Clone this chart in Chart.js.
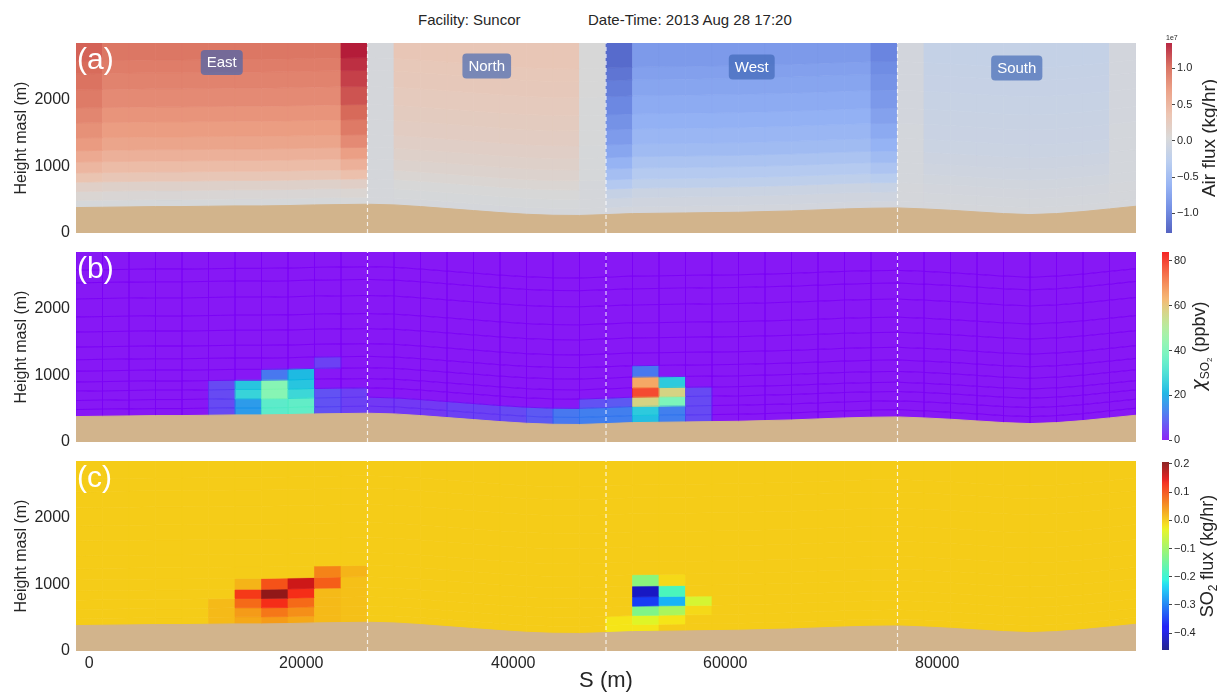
<!DOCTYPE html>
<html>
<head>
<meta charset="utf-8">
<script src="https://cdn.jsdelivr.net/npm/chart.js@4.4.1/dist/chart.umd.min.js"></script>
<style>
  body { margin: 0; background: #fff; font-family: "Liberation Sans", Arial, sans-serif; }
  #page { position: relative; width: 1217px; height: 692px; overflow: hidden; }
  canvas { position: absolute; }
  .ttl { position: absolute; top: 11px; font-size: 15px; line-height: 18px; color: #262626; white-space: pre; }
</style>
</head>
<body>
<div id="page">
  <div class="ttl" style="left:418px">Facility: Suncor</div>
  <div class="ttl" style="left:588px">Date-Time: 2013 Aug 28 17:20</div>
  <canvas id="pa" width="1150" height="252" style="left:0;top:0"></canvas>
  <canvas id="ca" width="77" height="252" style="left:1140px;top:0"></canvas>
  <canvas id="pb" width="1150" height="230" style="left:0;top:230px"></canvas>
  <canvas id="cb" width="77" height="230" style="left:1140px;top:230px"></canvas>
  <canvas id="pc" width="1150" height="252" style="left:0;top:440px"></canvas>
  <canvas id="cc" width="77" height="252" style="left:1140px;top:440px"></canvas>
</div>
<script>
'use strict';

// Column edges along the flight path S (m)
var sEdges = [-1250, 1250, 3750, 6250, 8750, 11250, 13750, 16250, 18750, 21250,
  23750, 26250, 28750, 31250, 33750, 36250, 38750, 41250, 43750, 46250,
  48750, 51250, 53750, 56250, 58750, 61250, 63750, 66250, 68750, 71250,
  73750, 76250, 78750, 81250, 83750, 86250, 88750, 91250, 93750, 96250, 98750];

// Ground height at each column edge (m)
var terrain = [380, 385, 390, 395, 395, 400, 405, 405, 410, 420, 425,
  430, 420, 395, 365, 335, 305, 280, 265, 262,
  275, 290, 295, 300, 305, 310, 320, 330, 345, 360, 370,
  375, 360, 340, 315, 290, 275, 290, 320, 360, 400];

// Mesh levels, height above ground (m)
var levelAgl = [0, 105, 240, 380, 518, 680, 850, 1040, 1265, 1490, 1760, 2000, 2190, 2600];

// Box sides: corners of the flight
var sectionNames = ['East', 'North', 'West', 'South'];
var sectionBounds = [26250, 48750, 76250];
var sectionLabelZ = [2550, 2495, 2480, 2465];

// Axis ticks
var xTicks = [0, 20000, 40000, 60000, 80000];
var yTicks = [0, 1000, 2000];
var yMax = 2840;

// (a) Air flux, 1e7 kg/hr, one row per level (bottom to top), 40 columns
var airFlux = [
  [0.02, 0.02, 0.02, 0.02, 0.02, 0.02, 0.02, 0.02, 0.02, 0.02, 0.03, 0, 0.01, 0.01, 0.01, 0.01, 0.01, 0.01, 0.01, 0, -0.02, -0.02, -0.02, -0.02, -0.02, -0.02, -0.02, -0.02, -0.02, -0.02, -0.02, 0, 0, 0, 0, 0, 0, 0, 0, 0],
  [0.08, 0.07, 0.07, 0.07, 0.07, 0.07, 0.07, 0.07, 0.07, 0.07, 0.08, 0, 0.02, 0.02, 0.02, 0.02, 0.02, 0.02, 0.02, 0, -0.07, -0.05, -0.05, -0.05, -0.05, -0.05, -0.05, -0.05, -0.05, -0.05, -0.06, 0, -0.01, -0.01, -0.01, -0.01, -0.01, -0.01, -0.01, 0],
  [0.17, 0.15, 0.15, 0.15, 0.15, 0.15, 0.15, 0.15, 0.15, 0.15, 0.18, 0, 0.04, 0.04, 0.04, 0.04, 0.04, 0.04, 0.04, 0.01, -0.15, -0.10, -0.10, -0.10, -0.10, -0.10, -0.10, -0.10, -0.10, -0.10, -0.13, 0, -0.02, -0.02, -0.02, -0.02, -0.02, -0.02, -0.02, 0],
  [0.34, 0.30, 0.30, 0.30, 0.30, 0.30, 0.30, 0.30, 0.30, 0.30, 0.38, 0, 0.08, 0.08, 0.08, 0.08, 0.08, 0.08, 0.08, 0.01, -0.32, -0.22, -0.22, -0.22, -0.22, -0.22, -0.22, -0.22, -0.22, -0.22, -0.27, -0.01, -0.04, -0.04, -0.04, -0.04, -0.04, -0.04, -0.04, -0.01],
  [0.47, 0.42, 0.42, 0.42, 0.42, 0.42, 0.42, 0.42, 0.42, 0.42, 0.53, 0, 0.12, 0.12, 0.12, 0.12, 0.12, 0.12, 0.12, 0.02, -0.45, -0.31, -0.31, -0.31, -0.31, -0.31, -0.31, -0.31, -0.31, -0.31, -0.38, -0.01, -0.06, -0.06, -0.06, -0.06, -0.06, -0.06, -0.06, -0.01],
  [0.59, 0.53, 0.53, 0.53, 0.53, 0.53, 0.53, 0.53, 0.53, 0.53, 0.68, 0, 0.15, 0.15, 0.15, 0.15, 0.15, 0.15, 0.15, 0.02, -0.58, -0.40, -0.40, -0.40, -0.40, -0.40, -0.40, -0.40, -0.40, -0.40, -0.49, -0.01, -0.08, -0.08, -0.08, -0.08, -0.08, -0.08, -0.08, -0.01],
  [0.71, 0.63, 0.63, 0.63, 0.63, 0.63, 0.63, 0.63, 0.63, 0.63, 0.82, 0, 0.18, 0.18, 0.18, 0.18, 0.18, 0.18, 0.18, 0.02, -0.70, -0.49, -0.49, -0.49, -0.49, -0.49, -0.49, -0.49, -0.49, -0.49, -0.59, -0.01, -0.10, -0.10, -0.10, -0.10, -0.10, -0.10, -0.10, -0.01],
  [0.78, 0.70, 0.70, 0.70, 0.70, 0.70, 0.70, 0.70, 0.70, 0.70, 0.93, 0, 0.21, 0.21, 0.21, 0.21, 0.21, 0.21, 0.21, 0.03, -0.79, -0.55, -0.55, -0.55, -0.55, -0.55, -0.55, -0.55, -0.55, -0.55, -0.67, -0.01, -0.11, -0.11, -0.11, -0.11, -0.11, -0.11, -0.11, -0.01],
  [0.85, 0.76, 0.76, 0.76, 0.76, 0.76, 0.76, 0.76, 0.76, 0.76, 1.03, 0, 0.23, 0.23, 0.23, 0.23, 0.23, 0.23, 0.23, 0.03, -0.87, -0.61, -0.61, -0.61, -0.61, -0.61, -0.61, -0.61, -0.61, -0.61, -0.74, -0.02, -0.12, -0.12, -0.12, -0.12, -0.12, -0.12, -0.12, -0.02],
  [0.92, 0.82, 0.82, 0.82, 0.82, 0.82, 0.82, 0.82, 0.82, 0.82, 1.12, 0, 0.25, 0.25, 0.25, 0.25, 0.25, 0.25, 0.25, 0.03, -0.95, -0.66, -0.66, -0.66, -0.66, -0.66, -0.66, -0.66, -0.66, -0.66, -0.81, -0.02, -0.13, -0.13, -0.13, -0.13, -0.13, -0.13, -0.13, -0.02],
  [0.97, 0.87, 0.87, 0.87, 0.87, 0.87, 0.87, 0.87, 0.87, 0.87, 1.20, 0, 0.27, 0.27, 0.27, 0.27, 0.27, 0.27, 0.27, 0.04, -1.02, -0.71, -0.71, -0.71, -0.71, -0.71, -0.71, -0.71, -0.71, -0.71, -0.86, -0.02, -0.14, -0.14, -0.14, -0.14, -0.14, -0.14, -0.14, -0.02],
  [1.02, 0.91, 0.91, 0.91, 0.91, 0.91, 0.91, 0.91, 0.91, 0.91, 1.27, 0, 0.28, 0.28, 0.28, 0.28, 0.28, 0.28, 0.28, 0.04, -1.08, -0.75, -0.75, -0.75, -0.75, -0.75, -0.75, -0.75, -0.75, -0.75, -0.91, -0.02, -0.15, -0.15, -0.15, -0.15, -0.15, -0.15, -0.15, -0.02],
  [1.06, 0.95, 0.95, 0.95, 0.95, 0.95, 0.95, 0.95, 0.95, 0.95, 1.35, 0, 0.30, 0.30, 0.30, 0.30, 0.30, 0.30, 0.30, 0.04, -1.15, -0.80, -0.80, -0.80, -0.80, -0.80, -0.80, -0.80, -0.80, -0.80, -0.97, -0.02, -0.16, -0.16, -0.16, -0.16, -0.16, -0.16, -0.16, -0.02]
];
var airRange = [-1.27, 1.35];
var airTicks = [-1.0, -0.5, 0, 0.5, 1.0];

// (b) SO2 mixing ratio, ppbv: [column, level, value]; all other cells 0
var so2Cells = [
  [5, 0, 6], [5, 1, 6], [5, 2, 6], [5, 3, 6],
  [6, 0, 17], [6, 1, 17], [6, 2, 27], [6, 3, 24],
  [7, 0, 34], [7, 1, 34], [7, 2, 42], [7, 3, 42], [7, 4, 12],
  [8, 0, 35], [8, 1, 35], [8, 2, 28], [8, 3, 24], [8, 4, 22],
  [9, 0, 7], [9, 1, 7], [9, 2, 7], [9, 5, 5],
  [10, 0, 5], [10, 1, 5], [10, 2, 5],
  [11, 0, 4], [11, 1, 4], [12, 0, 4], [12, 1, 4], [13, 0, 4], [13, 1, 4],
  [14, 0, 5], [14, 1, 5], [15, 0, 5], [15, 1, 5], [16, 0, 6], [16, 1, 6],
  [17, 0, 8], [17, 1, 8], [18, 0, 12], [18, 1, 12],
  [19, 0, 13], [19, 1, 13], [19, 2, 7], [20, 0, 13], [20, 1, 13], [20, 2, 8],
  [21, 0, 23], [21, 1, 25], [21, 2, 57], [21, 3, 78], [21, 4, 65], [21, 5, 12],
  [22, 0, 13], [22, 1, 13], [22, 2, 40], [22, 3, 57], [22, 4, 25],
  [23, 0, 6], [23, 1, 6], [23, 2, 6], [23, 3, 6]
];
var so2Range = [0, 84];
var so2Ticks = [0, 20, 40, 60, 80];

// (c) SO2 flux, kg/hr: [column, level, value]; all other cells 0
var fluxCells = [
  [5, 0, 0.015], [5, 1, 0.015], [5, 2, 0.015],
  [6, 0, 0.03], [6, 1, 0.04], [6, 2, 0.08], [6, 3, 0.12], [6, 4, 0.02],
  [7, 0, 0.04], [7, 1, 0.07], [7, 2, 0.13], [7, 3, 0.2], [7, 4, 0.1],
  [8, 0, 0.03], [8, 1, 0.05], [8, 2, 0.08], [8, 3, 0.13], [8, 4, 0.16],
  [9, 0, 0.015], [9, 1, 0.015], [9, 2, 0.015], [9, 3, 0.015], [9, 4, 0.09], [9, 5, 0.06],
  [10, 0, 0.01], [10, 1, 0.01], [10, 2, 0.01], [10, 3, 0.01], [10, 4, 0.01], [10, 5, 0.02],
  [20, 0, -0.02], [20, 1, -0.02],
  [21, 0, -0.02], [21, 1, -0.04], [21, 2, -0.13], [21, 3, -0.35], [21, 4, -0.42], [21, 5, -0.12],
  [22, 1, -0.02], [22, 2, -0.09], [22, 3, -0.26], [22, 4, -0.18], [22, 5, -0.01],
  [23, 2, -0.01], [23, 3, -0.05]
];
var fluxRange = [-0.46, 0.207];
var fluxTicks = [-0.4, -0.3, -0.2, -0.1, 0, 0.1, 0.2];


Chart.defaults.font.family = '"Liberation Sans", Arial, sans-serif';
Chart.defaults.color = '#262626';

// colour maps
var coolwarmStops = [[59, 76, 192], [97, 130, 234], [141, 176, 254], [184, 208, 249],
  [221, 221, 221], [245, 196, 173], [244, 154, 123], [222, 96, 77], [180, 4, 38]];
var jetR = [[0, 0], [0.35, 0], [0.66, 1], [0.89, 1], [1, 0.5]];
var jetG = [[0, 0], [0.125, 0], [0.375, 1], [0.64, 1], [0.91, 0], [1, 0]];
var jetB = [[0, 0.5], [0.11, 1], [0.34, 1], [0.65, 0], [1, 0]];

function clamp(t) { return Math.max(0, Math.min(1, t)); }
function pw(pts, t) {
  for (var i = 1; i < pts.length; i++) {
    if (t <= pts[i][0]) {
      var a = pts[i - 1], b = pts[i];
      return a[1] + (b[1] - a[1]) * (t - a[0]) / (b[0] - a[0]);
    }
  }
  return pts[pts.length - 1][1];
}
var cmaps = {
  coolwarm: function (t) {
    t = clamp(t);
    var f = t * (coolwarmStops.length - 1), i = Math.min(Math.floor(f), coolwarmStops.length - 2), u = f - i;
    return coolwarmStops[i].map(function (v, k) { return v + (coolwarmStops[i + 1][k] - v) * u; });
  },
  rainbow: function (t) {
    t = clamp(t);
    return [Math.min(1, Math.abs(2 * t - 0.5)) * 255, Math.sin(Math.PI * t) * 255, Math.cos(Math.PI * t / 2) * 255];
  },
  jet: function (t) {
    t = clamp(t);
    return [pw(jetR, t) * 255, pw(jetG, t) * 255, pw(jetB, t) * 255];
  }
};
// semi-transparent mesh over white, slightly toned down
function blend(rgb, a) {
  return 'rgb(' + rgb.map(function (v) { return Math.round(0.96 * (a * v + (1 - a) * 255)); }).join(',') + ')';
}
function sparseGrid(cells, bg) {
  var g = levelAgl.slice(1).map(function () { return sEdges.slice(1).map(function () { return bg; }); });
  cells.forEach(function (p) { g[p[1]][p[0]] = p[2]; });
  return g;
}
function minusFmt(d) {
  return function (v) {
    var s = Math.abs(v).toFixed(d);
    return v < -1e-9 ? '\u2212' + s : s;
  };
}
function boxPath(ctx, x, y, w, h, r) {
  ctx.beginPath();
  ctx.moveTo(x + r, y);
  ctx.arcTo(x + w, y, x + w, y + h, r);
  ctx.arcTo(x + w, y + h, x, y + h, r);
  ctx.arcTo(x, y + h, x, y, r);
  ctx.arcTo(x, y, x + w, y, r);
  ctx.closePath();
}

// draws the terrain-following mesh through the chart scales
var meshPlugin = {
  id: 'mesh',
  beforeDatasetsDraw: function (chart, args, o) {
    var xs = chart.scales.x, ys = chart.scales.y, ctx = chart.ctx, a = chart.chartArea;
    var cells = [];
    for (var r = 0; r < o.grid.length; r++) {
      for (var c = 0; c < o.grid[r].length; c++) {
        var lo = r === 0 ? -80 : levelAgl[r];
        var x0 = xs.getPixelForValue(sEdges[c]), x1 = xs.getPixelForValue(sEdges[c + 1]);
        cells.push({
          rgb: o.cmap((o.grid[r][c] - o.vmin) / (o.vmax - o.vmin)),
          pts: [[x0, ys.getPixelForValue(terrain[c] + lo)],
            [x1, ys.getPixelForValue(terrain[c + 1] + lo)],
            [x1, ys.getPixelForValue(terrain[c + 1] + levelAgl[r + 1])],
            [x0, ys.getPixelForValue(terrain[c] + levelAgl[r + 1])]]
        });
      }
    }
    ctx.save();
    ctx.beginPath();
    ctx.rect(a.left, a.top, a.right - a.left, a.bottom - a.top);
    ctx.clip();
    cells.forEach(function (cell) {
      ctx.beginPath();
      cell.pts.forEach(function (p, i) { if (i) ctx.lineTo(p[0], p[1]); else ctx.moveTo(p[0], p[1]); });
      ctx.closePath();
      var face = blend(cell.rgb, 0.9);
      ctx.fillStyle = face;
      ctx.fill();
      if (!o.edge) {
        ctx.strokeStyle = face;
        ctx.lineWidth = 0.7;
        ctx.stroke();
      }
    });
    if (o.edge) {
      cells.forEach(function (cell) {
        ctx.beginPath();
        cell.pts.forEach(function (p, i) { if (i) ctx.lineTo(p[0], p[1]); else ctx.moveTo(p[0], p[1]); });
        ctx.closePath();
        ctx.strokeStyle = blend(cell.rgb, 1);
        ctx.lineWidth = 0.8;
        ctx.stroke();
      });
    }
    ctx.restore();
  },
  afterDatasetsDraw: function (chart, args, o) {
    var xs = chart.scales.x, ys = chart.scales.y, ctx = chart.ctx, a = chart.chartArea;
    ctx.save();
    if (o.sections) {
      var edges = [sEdges[0]].concat(sectionBounds, [sEdges[sEdges.length - 1]]);
      ctx.font = '15px "Liberation Sans", Arial, sans-serif';
      ctx.textAlign = 'center';
      ctx.textBaseline = 'middle';
      sectionNames.forEach(function (name, i) {
        var cx = xs.getPixelForValue((edges[i] + edges[i + 1]) / 2);
        var cy = ys.getPixelForValue(sectionLabelZ[i]);
        var w = ctx.measureText(name).width + 12;
        boxPath(ctx, cx - w / 2, cy - 12.5, w, 25, 4);
        ctx.fillStyle = 'rgba(60,100,180,0.65)';
        ctx.fill();
        ctx.fillStyle = '#fff';
        ctx.fillText(name, cx, cy + 0.5);
      });
    }
    ctx.fillStyle = '#fff';
    ctx.font = '30px "Liberation Sans", Arial, sans-serif';
    ctx.textAlign = 'left';
    ctx.textBaseline = 'middle';
    ctx.fillText(o.letter, a.left + 1, a.top + 18);
    ctx.restore();
  }
};

function panel(id, o) {
  var datasets = sectionBounds.map(function (s) {
    return {
      data: [{ x: s, y: 0 }, { x: s, y: yMax }],
      borderColor: 'rgba(255,255,255,0.8)', borderWidth: 1.2, borderDash: [4, 3],
      pointRadius: 0, fill: false, order: 1
    };
  });
  datasets.push({
    data: sEdges.map(function (s, i) { return { x: s, y: terrain[i] }; }),
    borderColor: '#d2b48c', borderWidth: 1, backgroundColor: '#d2b48c',
    fill: 'origin', pointRadius: 0, tension: 0, order: 2
  });
  var xScale = {
    type: 'linear', min: sEdges[0], max: sEdges[sEdges.length - 1], display: o.showX,
    grid: { display: false, drawTicks: false }, border: { display: false },
    afterBuildTicks: function (s) { s.ticks = xTicks.map(function (v) { return { value: v }; }); },
    ticks: { font: { size: 16 }, padding: 3, maxRotation: 0, callback: function (v) { return String(v); } },
    title: { display: true, text: 'S (m)', font: { size: 22, lineHeight: 1 }, padding: { top: 0, bottom: 0 } }
  };
  if (o.showX) xScale.afterFit = function (s) { s.height = 41; };
  return new Chart(document.getElementById(id), {
    type: 'line',
    data: { datasets: datasets },
    options: {
      responsive: false, animation: false, events: [],
      layout: { padding: { left: 0, right: 14, top: o.top, bottom: o.bottom } },
      plugins: {
        legend: { display: false }, tooltip: { enabled: false },
        mesh: { grid: o.grid, cmap: o.cmap, vmin: o.range[0], vmax: o.range[1], edge: o.edge, letter: o.letter, sections: o.sections }
      },
      scales: {
        x: xScale,
        y: {
          type: 'linear', min: 0, max: yMax,
          grid: { display: false, drawTicks: false }, border: { display: false },
          afterBuildTicks: function (s) { s.ticks = yTicks.map(function (v) { return { value: v }; }); },
          ticks: { font: { size: 16 }, padding: 6, callback: function (v) { return String(v); } },
          title: { display: true, text: 'Height masl (m)', font: { size: 16 }, padding: { top: 12, bottom: 0 } },
          afterFit: function (s) { s.width = 76; }
        }
      }
    },
    plugins: [meshPlugin]
  });
}

// colour bar: gradient in the chart area, ticks from the y scale
var cbarPlugin = {
  id: 'cbar',
  afterDraw: function (chart, args, o) {
    var a = chart.chartArea, ctx = chart.ctx;
    ctx.save();
    var g = ctx.createLinearGradient(0, a.bottom, 0, a.top);
    for (var i = 0; i <= 64; i++) g.addColorStop(i / 64, blend(o.cmap(i / 64), 0.85));
    ctx.fillStyle = g;
    ctx.fillRect(a.left, a.top, a.right - a.left, a.bottom - a.top);
    if (o.offsetText) {
      ctx.fillStyle = '#262626';
      ctx.font = '7px "Liberation Sans", Arial, sans-serif';
      ctx.textAlign = 'left';
      ctx.textBaseline = 'bottom';
      ctx.fillText(o.offsetText, a.left, a.top - 1);
    }
    ctx.translate(o.labelX, (a.top + a.bottom) / 2);
    ctx.rotate(-Math.PI / 2);
    ctx.fillStyle = '#262626';
    ctx.textBaseline = 'alphabetic';
    ctx.textAlign = 'left';
    var total = 0;
    o.label.forEach(function (seg) {
      ctx.font = (seg[3] || '') + seg[1] + 'px ' + (seg[4] || '"Liberation Sans", Arial, sans-serif');
      seg.w = ctx.measureText(seg[0]).width;
      total += seg.w;
    });
    var x = -total / 2, base = o.label[0][1] * 0.36;
    o.label.forEach(function (seg) {
      ctx.font = (seg[3] || '') + seg[1] + 'px ' + (seg[4] || '"Liberation Sans", Arial, sans-serif');
      ctx.fillText(seg[0], x, base + seg[2]);
      x += seg.w;
    });
    ctx.restore();
  }
};

function colorbar(id, o) {
  return new Chart(document.getElementById(id), {
    type: 'line',
    data: { datasets: [] },
    options: {
      responsive: false, animation: false, events: [],
      layout: { padding: { left: o.left, right: 0, top: o.top, bottom: o.bottom } },
      plugins: { legend: { display: false }, tooltip: { enabled: false }, cbar: o },
      scales: {
        x: { type: 'linear', display: false, min: 0, max: 1 },
        y: {
          type: 'linear', position: 'right', min: o.range[0], max: o.range[1],
          grid: { drawOnChartArea: false, drawTicks: true, tickLength: 3, color: '#444', lineWidth: 1 },
          border: { display: false },
          afterBuildTicks: function (s) { s.ticks = o.ticks.map(function (v) { return { value: v }; }); },
          ticks: { font: { size: 11 }, padding: 2, callback: o.fmt },
          afterFit: function (s) { s.width = o.axisW; }
        }
      }
    },
    plugins: [cbarPlugin]
  });
}

panel('pa', { top: 43, bottom: 19, grid: airFlux, cmap: cmaps.coolwarm, range: airRange, letter: '(a)', sections: true, showX: false });
panel('pb', { top: 22, bottom: 18, grid: sparseGrid(so2Cells, 0), cmap: cmaps.rainbow, range: so2Range, letter: '(b)', edge: true, showX: false });
panel('pc', { top: 21, bottom: 0, grid: sparseGrid(fluxCells, 0), cmap: cmaps.jet, range: fluxRange, letter: '(c)', showX: true });

colorbar('ca', { left: 26, axisW: 45, top: 43, bottom: 19, range: airRange, ticks: airTicks, fmt: minusFmt(1),
  cmap: cmaps.coolwarm, labelX: 68, offsetText: '1e7', label: [['Air flux (kg/hr)', 19, 0]] });
colorbar('cb', { left: 22, axisW: 48, top: 22, bottom: 20, range: so2Range, ticks: so2Ticks, fmt: minusFmt(0),
  cmap: cmaps.rainbow, labelX: 58,
  label: [['\u03c7', 19, 0, 'italic ', '"DejaVu Sans", sans-serif'], ['SO', 12, 4], ['2', 8, 7], [' (ppbv)', 18, 0]] });
colorbar('cc', { left: 22, axisW: 48, top: 22, bottom: 42, range: fluxRange, ticks: fluxTicks, fmt: minusFmt(1),
  cmap: cmaps.jet, labelX: 67, label: [['SO', 18, 0], ['2', 12, 4], [' flux (kg/hr)', 18, 0]] });
</script>
</body>
</html>
